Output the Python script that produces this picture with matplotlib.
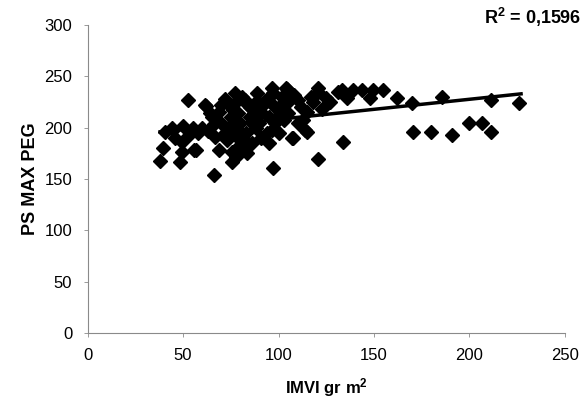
import numpy as np
import matplotlib
import matplotlib.pyplot as plt

matplotlib.use("Agg")

plt.rcParams['font.family'] = ['Liberation Sans', 'DejaVu Sans']
plt.rcParams['mathtext.fontset'] = 'custom'
plt.rcParams['mathtext.rm'] = 'Liberation Sans'
plt.rcParams['mathtext.bf'] = 'Liberation Sans:bold'

# IMVI (gr m2) vs PS MAX PEG
imvi = [52.7, 62, 69, 39.5, 38, 49.5, 56, 48.4, 49.5, 40.6, 50, 66, 69, 75.6,
        96.7, 104, 120.5, 107, 115, 120.7, 97, 83.5,
        133, 139, 143.7, 149.5, 154.7, 125, 136, 148, 162, 170, 170.5, 134,
        180, 191, 185.5, 200, 206.5, 211, 211.5, 226,
        61.5, 64, 77, 82.5, 89, 94.5, 79, 91, 66, 73.5, 88, 67, 77, 82.5, 91,
        75.6, 78, 57,
        97, 104.5, 110, 120.5, 127, 131, 100, 105, 96.5, 114, 107.5, 94,
        70, 75, 80, 85, 72, 78, 83, 86, 90, 95, 98, 100, 105, 92, 85, 75, 78,
        88, 102, 115, 112, 118, 123, 60, 63, 73, 80, 86, 95, 100, 110, 65, 58,
        55, 44, 46, 53, 45,
        72, 84, 93, 99, 108, 113, 81, 87, 76, 103, 117, 70, 96, 89]
ps_max = [227, 221, 215, 180, 168, 176, 178, 166.5, 186, 196, 202, 154, 178, 166.5,
          239, 239, 239, 190, 196, 170, 161, 175,
          237, 237, 237, 237, 237, 229, 229, 229, 229, 224, 196, 186,
          196, 193, 230, 205, 205, 196, 227, 224,
          222, 214, 234, 227, 234, 229, 214, 215, 204, 200, 200, 191, 193, 188, 190,
          176, 171, 178,
          234, 238, 227, 235, 225, 235, 212, 214, 198, 198, 190, 195,
          205, 210, 205, 210, 195, 200, 195, 205, 205, 210, 205, 220, 225, 222, 220, 220, 225,
          218, 230, 215, 220, 225, 218, 200, 197, 188, 183, 185, 185, 195, 205, 210, 195,
          200, 200, 190, 193, 198,
          228, 222, 226, 218, 232, 208, 230, 212, 217, 208, 230, 222, 224, 226]

# linear trend line as drawn in the source
trend_x = [38, 227]
trend_y = [196, 233]
r2_text = r"R$^{\mathbf{2}}$ = 0,1596"

fig = plt.figure(figsize=(5.85, 3.98), dpi=100)
ax = fig.add_axes([0.1496, 0.1633, 0.8162, 0.7737])

ax.plot(imvi, ps_max, linestyle="none", marker="D", markersize=6.8, color="black")
ax.plot(trend_x, trend_y, color="black", linewidth=2.5)

ax.set_xlim(0, 250)
ax.set_ylim(0, 300)
ax.set_xticks([0, 50, 100, 150, 200, 250])
ax.set_yticks([0, 50, 100, 150, 200, 250, 300])

for side in ("top", "right"):
  ax.spines[side].set_visible(False)
for side in ("left", "bottom"):
  ax.spines[side].set_color("#8a8a8a")
  ax.spines[side].set_linewidth(0.8)

ax.tick_params(axis="both", colors="#8a8a8a", labelcolor="black", labelsize=12, length=3, width=0.6)
ax.tick_params(axis="x", pad=8)
ax.tick_params(axis="y", pad=8)

ax.set_ylabel("PS MAX PEG", fontsize=13, fontweight="bold", labelpad=4)
ax.set_xlabel(r"IMVI gr m$\mathbf{^2}$", fontsize=12, fontweight="bold", labelpad=9)

fig.text(0.994, 0.955, r2_text, ha="right", va="center", fontsize=13, fontweight="bold")

plt.savefig("out.png", dpi=100)
